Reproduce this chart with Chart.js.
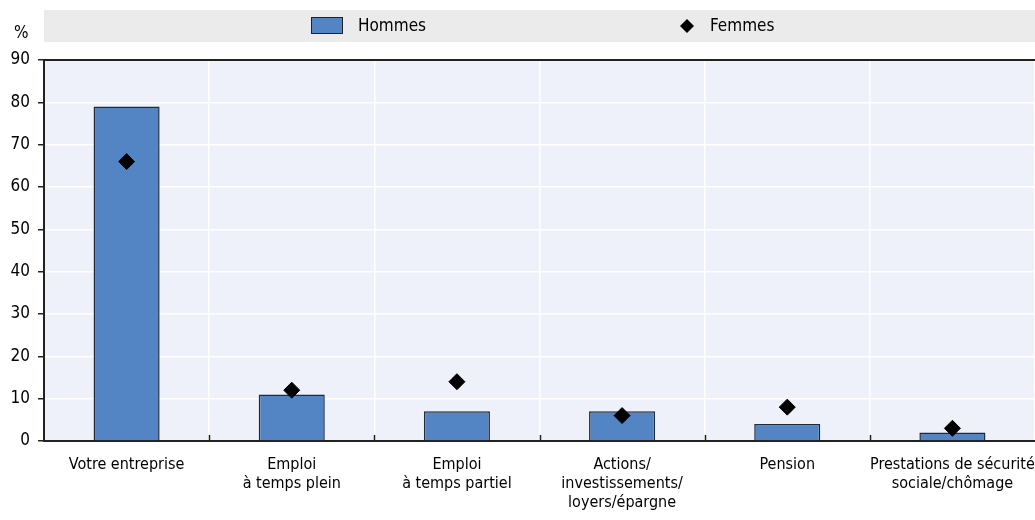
<!DOCTYPE html>
<html><head><meta charset="utf-8">
<script src="https://cdn.jsdelivr.net/npm/chart.js@4"></script>
<style>html,body{margin:0;padding:0;background:#fff}#w{width:1035px;height:520px}</style>
</head><body><div id="w"><canvas id="c"></canvas></div>
<script>
const categories = [
  "Votre entreprise",
  ["Emploi", "à temps plein"],
  ["Emploi", "à temps partiel"],
  ["Actions/", "investissements/", "loyers/épargne"],
  "Pension",
  ["Prestations de sécurité", "sociale/chômage"]
];
const hommes = [79, 11, 7, 7, 4, 2];
const femmes = [66, 12, 14, 6, 8, 3];
const yTicks = [0, 10, 20, 30, 40, 50, 60, 70, 80, 90];
const FONT = "'DejaVu Sans Condensed', 'Liberation Sans Narrow', sans-serif";

const deco = {
  id: 'deco',
  beforeDraw(chart) {
    const {ctx, chartArea: a} = chart;
    ctx.save();
    ctx.fillStyle = '#EEF1F9';
    ctx.fillRect(a.left, a.top, a.right - a.left, a.bottom - a.top);
    ctx.fillStyle = '#EBEBEB';
    ctx.fillRect(a.left, 10, chart.width - a.left, 32);
    ctx.restore();
  },
  afterDraw(chart) {
    const {ctx, chartArea: a} = chart;
    const xs = chart.scales.x;
    ctx.save();
    ctx.strokeStyle = '#222';
    ctx.lineWidth = 2;
    ctx.beginPath();
    ctx.moveTo(a.left, a.top); ctx.lineTo(a.right, a.top);
    ctx.stroke();
    ctx.lineWidth = 1.5;
    const half = (xs.getPixelForValue(1) - xs.getPixelForValue(0)) / 2;
    for (let i = 1; i < categories.length; i++) {
      const x = Math.round(xs.getPixelForValue(i) - half) + 0.5;
      ctx.beginPath(); ctx.moveTo(x, a.bottom); ctx.lineTo(x, a.bottom - 6); ctx.stroke();
    }
    const ds0 = chart.data.datasets[0];
    ctx.fillStyle = ds0.backgroundColor;
    ctx.fillRect(311.5, 17.5, 31, 16);
    ctx.strokeStyle = '#222'; ctx.lineWidth = 1;
    ctx.strokeRect(311.5, 17.5, 31, 16);
    ctx.fillStyle = '#000';
    ctx.font = '17px ' + FONT;
    ctx.textBaseline = 'middle';
    ctx.textAlign = 'left';
    ctx.fillText('Hommes', 358, 27);
    ctx.fillText('Femmes', 710, 27);
    ctx.beginPath();
    ctx.moveTo(687, 19); ctx.lineTo(694, 26); ctx.lineTo(687, 33); ctx.lineTo(680, 26); ctx.closePath();
    ctx.fill();
    ctx.fillText('%', 14, 34);
    ctx.restore();
  }
};

new Chart(document.getElementById('c'), {
  type: 'bar',
  data: {
    labels: categories,
    datasets: [
      {
        label: 'Hommes', data: hommes, backgroundColor: '#5385C5', borderColor: '#1F2A3A',
        borderWidth: 1.5, barPercentage: 0.4, categoryPercentage: 1, order: 2
      },
      {
        type: 'line', label: 'Femmes', data: femmes, showLine: false, pointStyle: 'rectRot',
        pointRadius: 8, pointHoverRadius: 8, backgroundColor: '#000', borderColor: '#000', order: 1
      }
    ]
  },
  plugins: [deco],
  options: {
    responsive: true, maintainAspectRatio: false, animation: false,
    layout: { autoPadding: false, padding: { top: 60, right: 0, left: 0, bottom: 0 } },
    plugins: { legend: { display: false }, tooltip: { enabled: false } },
    scales: {
      x: {
        grid: { color: '#FFFFFF', lineWidth: 1.5, tickLength: 0, drawTicks: false, offset: true },
        border: { color: '#222', width: 2 },
        ticks: { color: '#000', font: { family: FONT, size: 16 }, padding: 14, maxRotation: 0, autoSkip: false },
        afterFit(s) { s.height = 79; s.paddingLeft = 0; s.paddingRight = 0; }
      },
      y: {
        min: 0, max: 90,
        afterBuildTicks(s) { s.ticks = yTicks.map(v => ({ value: v })); },
        grid: { color: '#FFFFFF', lineWidth: 1.5, tickColor: '#222', tickLength: 6 },
        border: { color: '#222', width: 2 },
        ticks: { color: '#000', font: { family: FONT, size: 17 }, padding: 8 },
        afterFit(s) { s.width = 44; s.paddingTop = 0; s.paddingBottom = 0; }
      }
    }
  }
});
</script></body></html>
